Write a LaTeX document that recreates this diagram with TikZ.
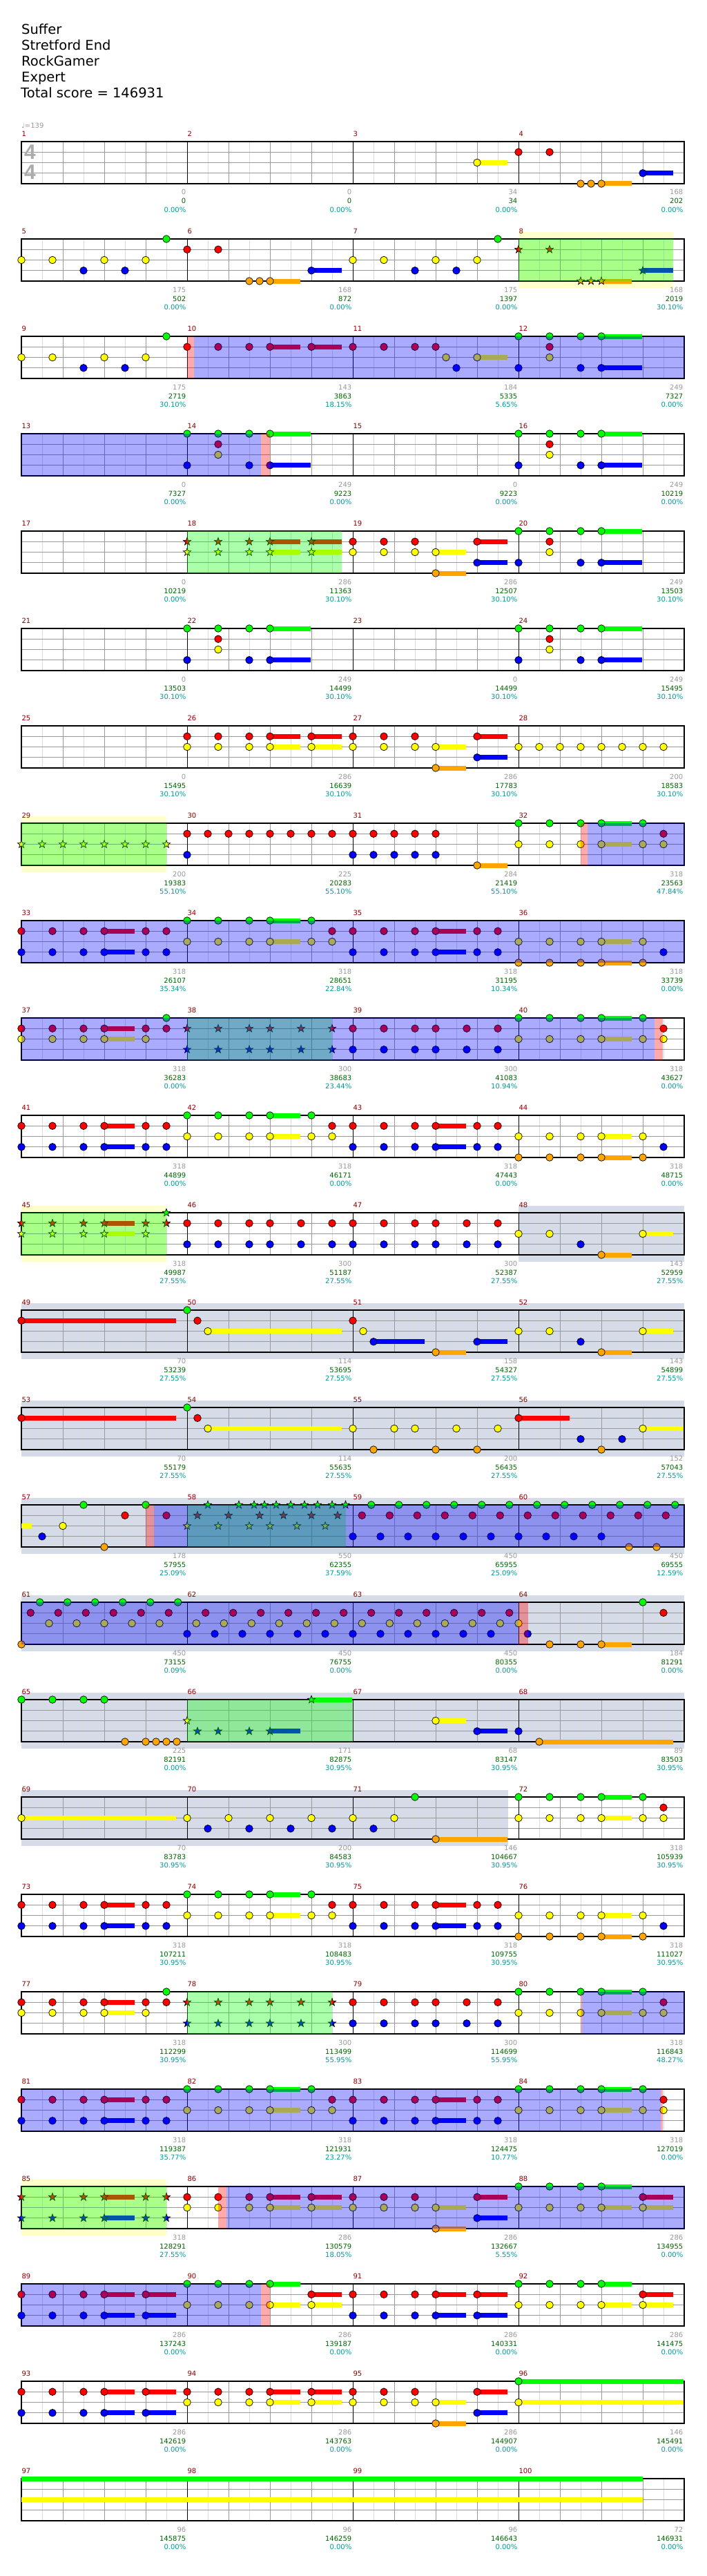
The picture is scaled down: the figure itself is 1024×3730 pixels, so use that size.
\documentclass[tikz,border=0pt]{standalone}
\usepackage{fontspec}
\setmainfont{DejaVu Sans}
\newfontfamily\sigfont{Liberation Sans}
\usepackage{tikz}
\definecolor{lane0}{HTML}{00FF00}
\definecolor{lane1}{HTML}{FF0000}
\definecolor{lane2}{HTML}{FFFF00}
\definecolor{lane3}{HTML}{0000FF}
\definecolor{lane4}{HTML}{FFA500}
\definecolor{halo}{HTML}{FFFFCC}
\definecolor{slowband}{HTML}{D5DBE7}
\definecolor{numred}{HTML}{8B0000}
\definecolor{ptgray}{HTML}{999999}
\definecolor{totgreen}{HTML}{006400}
\definecolor{pctteal}{HTML}{009999}
\tikzset{
  gridlight/.style={draw=black!14, line width=0.8},
  gridbeat/.style={draw=black!40, line width=0.8},
  barline/.style={draw=black, line width=0.9},
  staffbox/.style={draw=black, line width=1.2},
  sus/.style={line width=7, line cap=butt},
  notedot/.style={draw=black, line width=0.7},
  spfill/.style={fill=lane0, fill opacity=0.333},
  odfill/.style={fill=lane3, fill opacity=0.333},
  pkfill/.style={fill=lane1, fill opacity=0.333},
  halofill/.style={fill=halo},
  slowfill/.style={fill=slowband},
  title/.style={font=\fontsize{19.5}{23}\selectfont, anchor=base west, inner sep=0},
  small/.style={font=\fontsize{10}{12}\selectfont, inner sep=0},
  numlab/.style={small, anchor=base west, text=numred},
  ptlab/.style={small, anchor=base east, text=ptgray},
  totlab/.style={small, anchor=base east, text=totgreen},
  pctlab/.style={small, anchor=base east, text=pctteal},
  tsig/.style={font=\sigfont\bfseries\fontsize{30}{36}\selectfont, text=black!33,
    anchor=base west, inner sep=0},
}
% position of measure #1, offset #2 -> \mx,\my (staff top)
\newcommand\mpos[2]{%
  \pgfmathsetmacro\mx{31+240*mod(#1-1,4)+#2}%
  \pgfmathsetmacro\my{205+141*floor((#1-1)/4)}}
% notes: offset/lane/sustain(16ths)
\newcommand\meas[2]{%
  \mpos{#1}{0}\edef\nlist{#2}%
  \foreach \po/\pl/\ps in \nlist {%
    \pgfmathsetmacro\nx{\mx+\po}\pgfmathsetmacro\ny{\my+15.25*\pl}%
    \ifnum\ps>0 \draw[sus,lane\pl] (\nx,\ny) -- ++({\ps*15-1},0);\fi
    \filldraw[notedot,fill=lane\pl] (\nx,\ny) circle[radius=5.3];}}
\newcommand\smeas[2]{%
  \mpos{#1}{0}\edef\nlist{#2}%
  \foreach \po/\pl/\ps in \nlist {%
    \pgfmathsetmacro\nx{\mx+\po}\pgfmathsetmacro\ny{\my+15.25*\pl}%
    \ifnum\ps>0 \draw[sus,lane\pl] (\nx,\ny) -- ++({\ps*15-1},0);\fi
    \filldraw[notedot,fill=lane\pl] (\nx,\ny) +(-90:5.8)
      \foreach \a in {1,...,9}{ -- +({-90+36*\a}:{4.1+1.7*cos(180*\a)})} -- cycle;}}
\newcommand\susbar[4]{\mpos{#1}{#2}\draw[sus,lane#3] (\mx,{\my+15.25*#3}) -- ++(#4,0);}
\newcommand\ovl[4]{\mpos{#2}{#3}\fill[#1] (\mx,\my) rectangle ++({#4-#3},61);}
\newcommand\band[4]{\mpos{#2}{#3}\fill[#1] (\mx,\my-10) rectangle ++({#4-#3},81);}
% repeated note patterns
\def\pA{0/2/0,45/2/0,90/3/0,120/2/0,150/3/0,180/2/0,210/0/0}
\def\pB{0/1/0,45/1/0,90/4/0,105/4/0,120/4/3,180/3/3}
\def\pC{0/0/0,45/0/0,90/0/0,120/0/4,45/1/0,45/2/0,0/3/0,90/3/0,120/3/4}
\def\pD{0/1/0,0/2/0,45/1/0,45/2/0,90/1/0,90/2/0,120/1/3,120/2/3,180/1/3,180/2/3}
\def\pE{0/1/0,0/2/0,45/1/0,45/2/0,90/1/0,90/2/0,120/2/3,120/4/3,180/1/3,180/3/3}
\def\pF{0/0/0,45/0/0,90/0/0,120/0/3,180/0/0,0/2/0,45/2/0,90/2/0,120/2/3,180/2/0,210/2/0,210/1/0}
\def\pG{0/1/0,0/3/0,45/1/0,45/3/0,90/1/0,90/3/0,120/1/3,120/3/3,180/1/0,180/3/0,210/1/0,210/3/0}
\def\pH{0/2/0,0/4/0,45/2/0,45/4/0,90/2/0,90/4/0,120/2/3,120/4/3,180/2/0,180/4/0,210/3/0}
\def\pI{0/1/0,0/2/0,45/1/0,45/2/0,90/1/0,90/2/0,120/1/3,120/2/3,180/1/0,180/2/0,210/1/0,210/0/0}
\def\pJ{0/1/0,0/3/0,45/1/0,45/3/0,90/1/0,90/3/0,120/1/0,120/3/0,165/1/0,165/3/0,210/1/0,210/3/0}
\def\pK{0/2/0,45/2/0,90/3/0,120/4/3,180/2/3}
\def\pL{0/0/0,45/0/0,90/0/0,120/0/3,0/2/0,45/2/0,90/2/0,120/2/3,180/2/3,180/1/3}
\def\pM{0/1/0,0/3/0,45/1/0,45/3/0,90/1/0,90/3/0,120/1/3,120/3/3,180/1/3,180/3/3}
\def\pY{0/2/0,30/2/0,60/2/0,90/2/0,120/2/0,150/2/0,180/2/0,210/2/0}
\begin{document}
\begin{tikzpicture}[x=1pt,y=-1pt]
  \useasboundingbox (0,0) rectangle (1024,3730);
  \fill[white] (0,0) rectangle (1024,3730);
  % header
  \node[title] (song) at (31,49.3) {Suffer};
  \node[title] (artist) at (31,72.3) {Stretford End};
  \node[title] (charter) at (31,95.3) {RockGamer};
  \node[title] (level) at (31,118.3) {Expert};
  \node[title] (total) at (30,141.3) {Total score = 146931};
  \node[small, anchor=base west, text=ptgray] (tempo) at (31,185.3) {♩=139};
  % star phrase halos and slow band
  \band{halofill}{8}{0}{224}
  \band{halofill}{29}{0}{210}
  \band{halofill}{45}{0}{210}
  \band{halofill}{85}{0}{210}
  \band{slowfill}{48}{0}{240}
  \foreach \m in {49,53,57,61,65} {\band{slowfill}{\m}{0}{960}}
  \band{slowfill}{69}{0}{705}
  % staves
  \foreach \r in {0,...,24} {
    \pgfmathsetmacro\ry{205+141*\r}
    \foreach \i in {0,...,15} \draw[gridlight] ({61+60*\i},\ry) -- ++(0,61);
    \foreach \i in {1,2,3,5,6,7,9,10,11,13,14,15} \draw[gridbeat] ({31+60*\i},\ry) -- ++(0,61);
    \foreach \j in {1,2,3} \draw[gridbeat] (31,{\ry+15.25*\j}) -- ++(960,0);
    \foreach \k in {1,2,3} \draw[barline] ({31+240*\k},\ry) -- ++(0,61);
    \draw[staffbox] (31,\ry) rectangle ++(960,61);
  }
  \node[tsig] (tsup) at (35,230.7) {4};
  \node[tsig] (tsdown) at (35,260) {4};
  % notes
  \meas{3}{180/2/3}
  \meas{4}{\pB}  \meas{5}{\pA}  \meas{6}{\pB}  \meas{7}{\pA}
  \smeas{8}{\pB} \meas{9}{\pA}
  \meas{10}{0/1/0,45/1/0,90/1/0,120/1/3,180/1/3}
  \meas{11}{0/1/0,45/1/0,90/1/0,120/1/0,135/2/0,150/3/0,180/2/3}
  \meas{12}{\pC} \meas{14}{\pC} \meas{16}{\pC}
  \smeas{18}{\pD} \meas{19}{\pE} \meas{20}{\pC}
  \meas{22}{\pC} \meas{24}{\pC}
  \meas{26}{\pD} \meas{27}{\pE} \meas{28}{\pY}
  \smeas{29}{\pY}
  \meas{30}{0/1/0,30/1/0,60/1/0,90/1/0,120/1/0,150/1/0,180/1/0,210/1/0,0/3/0}
  \meas{31}{0/1/0,30/1/0,60/1/0,90/1/0,120/1/0,0/3/0,30/3/0,60/3/0,90/3/0,120/3/0,180/4/3}
  \meas{32}{\pF} \meas{33}{\pG} \meas{34}{\pF} \meas{35}{\pG} \meas{36}{\pH}
  \meas{37}{\pI} \smeas{38}{\pJ} \meas{39}{\pJ} \meas{40}{\pF}
  \meas{41}{\pG} \meas{42}{\pF} \meas{43}{\pG} \meas{44}{\pH}
  \smeas{45}{\pI} \meas{46}{\pJ} \meas{47}{\pJ} \meas{48}{\pK}
  \meas{49}{0/1/15}
  \meas{50}{0/0/0,15/1/0,30/2/13}
  \meas{51}{0/1/0,15/2/0,30/3/5,120/4/3,180/3/3}
  \meas{52}{\pK}
  \meas{53}{0/1/15}
  \meas{54}{0/0/0,15/1/0,30/2/13}
  \meas{55}{0/2/0,60/2/0,90/2/0,150/2/0,210/2/0,30/4/0,120/4/0,180/4/0}
  \meas{56}{0/1/5,90/3/0,150/3/0,120/4/0,180/2/4}
  \susbar{57}{0}{2}{15}
  \meas{57}{30/3/0,60/2/0,90/0/0,120/4/0,150/1/0,180/0/0,210/1/0}
  \smeas{58}{0/2/0,45/2/0,90/2/0,120/2/0,159/2/0,200/2/0,15/1/0,60/1/0,105/1/0,139.5/1/0,180/1/0,218/1/0,30/0/0,75/0/0,97/0/0,112/0/0,129/0/0,150/0/0,170/0/0,189/0/0,210/0/0,229.5/0/0}
  \meas{59}{0/3/0,40/3/0,80/3/0,120/3/0,160/3/0,200/3/0,13.3/1/0,53.3/1/0,93.3/1/0,133.3/1/0,173.3/1/0,213.3/1/0,26.7/0/0,66.7/0/0,106.7/0/0,146.7/0/0,186.7/0/0,226.7/0/0}
  \meas{60}{0/3/0,40/3/0,80/3/0,120/3/0,160/4/0,200/4/0,13.3/1/0,53.3/1/0,93.3/1/0,133.3/1/0,173.3/1/0,213.3/1/0,26.7/0/0,66.7/0/0,106.7/0/0,146.7/0/0,186.7/0/0,226.7/0/0}
  \meas{61}{0/4/0,40/2/0,80/2/0,120/2/0,160/2/0,200/2/0,13.3/1/0,53.3/1/0,93.3/1/0,133.3/1/0,173.3/1/0,213.3/1/0,26.7/0/0,66.7/0/0,106.7/0/0,146.7/0/0,186.7/0/0,226.7/0/0}
  \foreach \m in {62,63} {\meas{\m}{0/3/0,40/3/0,80/3/0,120/3/0,160/3/0,200/3/0,13.3/2/0,53.3/2/0,93.3/2/0,133.3/2/0,173.3/2/0,213.3/2/0,26.7/1/0,66.7/1/0,106.7/1/0,146.7/1/0,186.7/1/0,226.7/1/0}}
  \meas{64}{0/2/0,13.3/3/0,45/4/0,90/4/0,120/4/3,180/0/0,210/1/0}
  \meas{65}{0/0/0,45/0/0,90/0/0,120/0/0,150/4/0,180/4/0,195/4/0,210/4/0,225/4/0}
  \smeas{66}{0/2/0,15/3/0,45/3/0,90/3/0,120/3/3,180/0/4}
  \meas{67}{120/2/3,180/3/3}
  \meas{68}{0/3/0,30/4/13}
  \meas{69}{0/2/15}
  \meas{70}{0/2/0,60/2/0,120/2/0,180/2/0,30/3/0,90/3/0,150/3/0,210/3/0}
  \meas{71}{0/2/0,60/2/0,30/3/0,90/0/0,120/4/7}
  \meas{72}{\pF} \meas{73}{\pG} \meas{74}{\pF} \meas{75}{\pG} \meas{76}{\pH}
  \meas{77}{\pI} \smeas{78}{\pJ} \meas{79}{\pJ} \meas{80}{\pF}
  \meas{81}{\pG} \meas{82}{\pF} \meas{83}{\pG} \meas{84}{\pF}
  \smeas{85}{\pG} \meas{86}{\pD} \meas{87}{\pE} \meas{88}{\pL}
  \meas{89}{\pM} \meas{90}{\pL} \meas{91}{\pM} \meas{92}{\pL}
  \meas{93}{\pM} \meas{94}{\pD} \meas{95}{\pE}
  \meas{96}{0/0/16,0/2/16}
  \susbar{97}{0}{0}{900}
  \susbar{97}{0}{2}{900}
  % star power phrases
  \ovl{spfill}{8}{0}{224}
  \ovl{spfill}{18}{0}{224}
  \ovl{spfill}{29}{0}{210}
  \ovl{spfill}{38}{0}{210}
  \ovl{spfill}{45}{0}{210}
  \ovl{spfill}{58}{0}{229.6}
  \ovl{spfill}{66}{0}{240}
  \ovl{spfill}{78}{0}{210}
  \ovl{spfill}{85}{0}{210}
  % overdrive
  \ovl{pkfill}{10}{0}{10}   \ovl{odfill}{10}{10}{720}
  \ovl{odfill}{13}{0}{347}  \ovl{pkfill}{14}{107}{120}
  \ovl{pkfill}{32}{90}{100} \ovl{odfill}{32}{100}{240}
  \ovl{odfill}{33}{0}{960}
  \ovl{odfill}{37}{0}{917}  \ovl{pkfill}{40}{197}{209}
  \ovl{pkfill}{57}{180}{192} \ovl{odfill}{57}{192}{960}
  \ovl{odfill}{61}{0}{720}  \ovl{pkfill}{64}{0}{14}
  \ovl{pkfill}{80}{90}{92}  \ovl{odfill}{80}{92}{240}
  \ovl{odfill}{81}{0}{926}  \ovl{pkfill}{84}{206}{209}
  \ovl{pkfill}{86}{45}{57}  \ovl{odfill}{86}{57}{720}
  \ovl{odfill}{89}{0}{347}  \ovl{pkfill}{90}{107}{120}
  % measure numbers and scores
  \foreach \m/\vsc/\vtot/\vpct in {1/0/0/0.00,2/0/0/0.00,3/34/34/0.00,4/168/202/0.00,
    5/175/502/0.00,6/168/872/0.00,7/175/1397/0.00,8/168/2019/30.10,
    9/175/2719/30.10,10/143/3863/18.15,11/184/5335/5.65,12/249/7327/0.00,
    13/0/7327/0.00,14/249/9223/0.00,15/0/9223/0.00,16/249/10219/0.00,
    17/0/10219/0.00,18/286/11363/30.10,19/286/12507/30.10,20/249/13503/30.10,
    21/0/13503/30.10,22/249/14499/30.10,23/0/14499/30.10,24/249/15495/30.10,
    25/0/15495/30.10,26/286/16639/30.10,27/286/17783/30.10,28/200/18583/30.10,
    29/200/19383/55.10,30/225/20283/55.10,31/284/21419/55.10,32/318/23563/47.84,
    33/318/26107/35.34,34/318/28651/22.84,35/318/31195/10.34,36/318/33739/0.00,
    37/318/36283/0.00,38/300/38683/23.44,39/300/41083/10.94,40/318/43627/0.00,
    41/318/44899/0.00,42/318/46171/0.00,43/318/47443/0.00,44/318/48715/0.00,
    45/318/49987/27.55,46/300/51187/27.55,47/300/52387/27.55,48/143/52959/27.55,
    49/70/53239/27.55,50/114/53695/27.55,51/158/54327/27.55,52/143/54899/27.55,
    53/70/55179/27.55,54/114/55635/27.55,55/200/56435/27.55,56/152/57043/27.55,
    57/178/57955/25.09,58/550/62355/37.59,59/450/65955/25.09,60/450/69555/12.59,
    61/450/73155/0.09,62/450/76755/0.00,63/450/80355/0.00,64/184/81291/0.00,
    65/225/82191/0.00,66/171/82875/30.95,67/68/83147/30.95,68/89/83503/30.95,
    69/70/83783/30.95,70/200/84583/30.95,71/146/104667/30.95,72/318/105939/30.95,
    73/318/107211/30.95,74/318/108483/30.95,75/318/109755/30.95,76/318/111027/30.95,
    77/318/112299/30.95,78/300/113499/55.95,79/300/114699/55.95,80/318/116843/48.27,
    81/318/119387/35.77,82/318/121931/23.27,83/318/124475/10.77,84/318/127019/0.00,
    85/318/128291/27.55,86/286/130579/18.05,87/286/132667/5.55,88/286/134955/0.00,
    89/286/137243/0.00,90/286/139187/0.00,91/286/140331/0.00,92/286/141475/0.00,
    93/286/142619/0.00,94/286/143763/0.00,95/286/144907/0.00,96/146/145491/0.00,
    97/96/145875/0.00,98/96/146259/0.00,99/96/146643/0.00,100/72/146931/0.00} {
    \mpos{\m}{0}
    \node[numlab] (num\m) at (\mx+0.3,\my-7.3) {\m};
    \node[ptlab] (pts\m) at (\mx+238.5,\my+77) {\vsc};
    \node[totlab] (tot\m) at (\mx+238.5,\my+90) {\vtot};
    \node[pctlab] (pct\m) at (\mx+238.5,\my+102.7) {\vpct\%};
  }
\end{tikzpicture}
\end{document}
